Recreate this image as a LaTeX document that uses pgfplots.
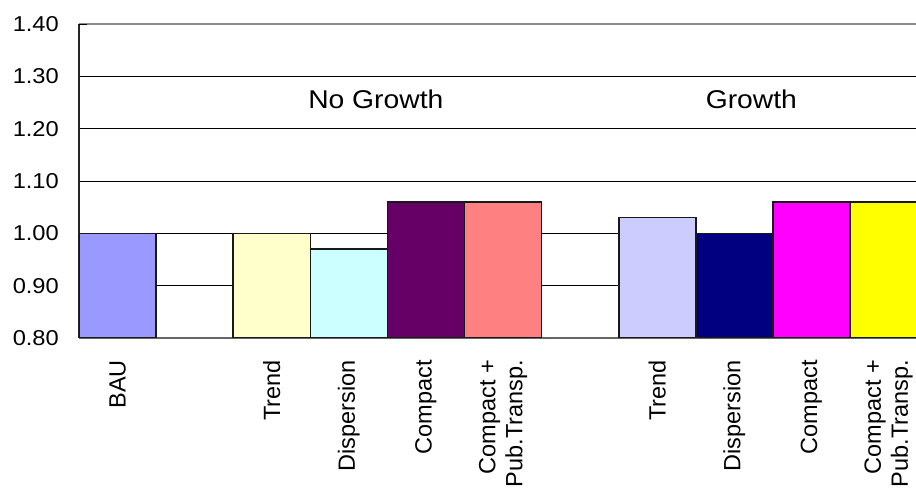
\documentclass[border=0pt]{standalone}
\usepackage{pgfplots}
\pgfplotsset{compat=1.18}
\usepackage{fontspec}
\setmainfont{Liberation Sans}[FakeStretch=1.1]
\newfontfamily\rotfont{Liberation Sans}
\definecolor{cBAU}{HTML}{9999FF}
\definecolor{cTrendN}{HTML}{FFFFCC}
\definecolor{cDispN}{HTML}{CCFFFF}
\definecolor{cCompN}{HTML}{660066}
\definecolor{cCPTN}{HTML}{FF8080}
\definecolor{cTrendG}{HTML}{CCCCFF}
\definecolor{cDispG}{HTML}{000080}
\definecolor{cCompG}{HTML}{FF00FF}
\definecolor{cCPTG}{HTML}{FFFF00}
\pgfplotsset{layers/mylayers/.define layer set={axis background,axis grid,pre main,main,axis ticks,axis lines,axis tick labels,axis descriptions,axis foreground}{}}
\pgfplotsset{mybar/.style={ybar, bar width=1, bar shift=0pt, draw=black!90, line width=1.6pt, fill=#1}}
\begin{document}
\begin{tikzpicture}
\begin{axis}[
  set layers=mylayers,
  at={(79pt,152pt)}, anchor=south west,
  scale only axis, width=837pt, height=314pt,
  xmin=-0.5, xmax=10.356, ymin=0.8, ymax=1.4,
  axis x line*=bottom, axis y line*=left,
  axis line style={-},
  x axis line style={draw=black!60, line width=1.2pt},
  y axis line style={draw=black!85, line width=1.2pt},
  ymajorgrids,
  grid style={black, line width=0.7pt},
  ytick={0.8,0.9,1.0,1.1,1.2,1.3},
  extra y ticks={1.4},
  extra y tick style={grid style={black!45, line width=1.2pt}},
  /pgf/number format/assume math mode=true,
  yticklabel style={/pgf/number format/.cd, fixed, fixed zerofill, precision=2, /tikz/.cd, font=\fontsize{21.5}{24}\selectfont, inner sep=0pt},
  yticklabel shift=20pt,
  tick align=inside,
  major tick length=8pt,
  ytick style={black, line width=0.7pt},
  xtick style={draw=none},
  xtick={0,2,3,4,5,7,8,9,10},
  xticklabels={BAU,Trend,Dispersion,Compact,{Compact +\\Pub.Transp.},Trend,Dispersion,Compact,{Compact +\\Pub.Transp.}},
  xticklabel style={rotate=90, anchor=east, align=right, inner sep=0pt, font=\rotfont\fontsize{23.5}{27}\selectfont},
  xticklabel shift=22pt,
]
\addplot[mybar=cBAU] coordinates {(0,1.00)};
\addplot[mybar=cTrendN] coordinates {(2,1.00)};
\addplot[mybar=cDispN] coordinates {(3,0.97)};
\addplot[mybar=cCompN] coordinates {(4,1.06)};
\addplot[mybar=cCPTN] coordinates {(5,1.06)};
\addplot[mybar=cTrendG] coordinates {(7,1.03)};
\addplot[mybar=cDispG] coordinates {(8,1.00)};
\addplot[mybar=cCompG] coordinates {(9,1.06)};
\addplot[mybar=cCPTG] coordinates {(10,1.06)};
\node[anchor=base, font=\fontsize{25.7}{30}\selectfont] at (axis cs:3.35,1.239) {No Growth};
\node[anchor=base, font=\fontsize{25.7}{30}\selectfont] at (axis cs:8.22,1.239) {Growth};
\end{axis}
\pgfresetboundingbox
\path[use as bounding box] (0pt,0pt) rectangle (916pt,490pt);
\end{tikzpicture}
\end{document}
